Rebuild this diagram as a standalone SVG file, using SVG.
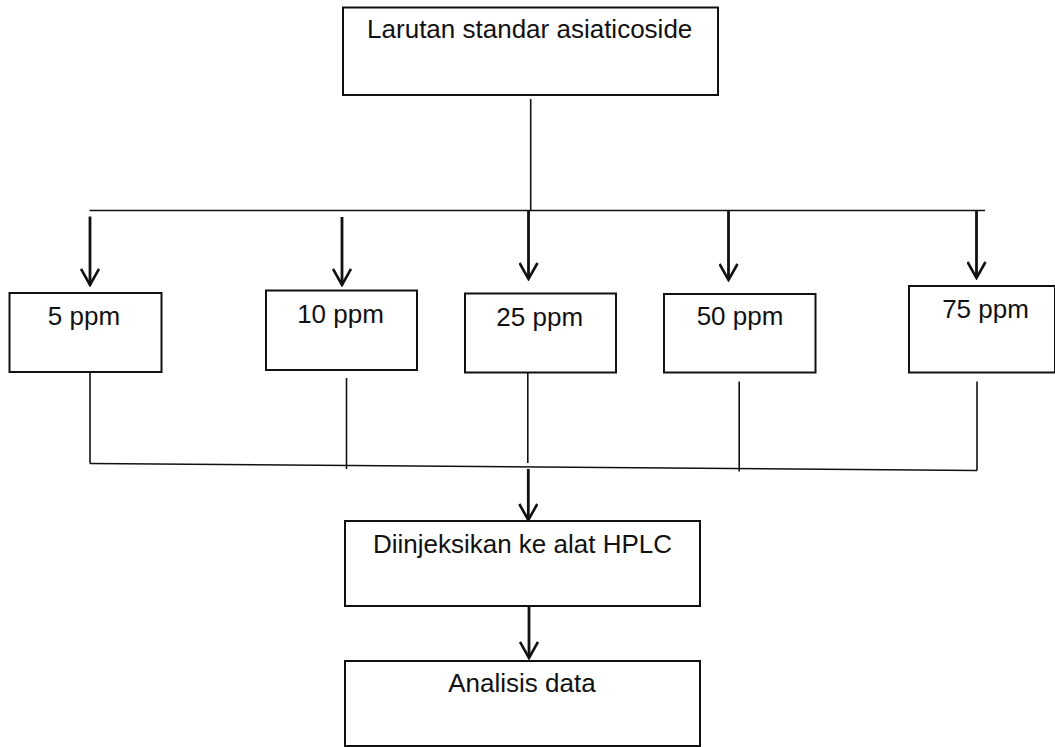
<svg xmlns="http://www.w3.org/2000/svg" width="1055" height="747" viewBox="0 0 1055 747">
  <defs>
    <style>
      .box { fill: #ffffff; stroke: #111111; stroke-width: 2; }
      .lbl { font-family: "Liberation Sans", Arial, sans-serif; font-size: 26px; fill: #111111; text-anchor: middle; }
      .ln { fill: none; stroke: #111111; stroke-width: 1.6; }
      .ar { fill: none; stroke: #111111; stroke-width: 2.8; marker-end: url(#arr); }
    </style>
    <marker id="arr" markerWidth="20" markerHeight="20" refX="18" refY="10" markerUnits="userSpaceOnUse" orient="auto">
      <path d="M2,1 L18,10 L2,19" fill="none" stroke="#111111" stroke-width="2.6"/>
    </marker>
  </defs>
  <rect width="1055" height="747" fill="#ffffff"/>

  <g id="connectors">
    <line class="ln" x1="530.7" y1="99" x2="530.7" y2="210.5"/>
    <line class="ln" x1="89.5" y1="210.5" x2="985" y2="210.5" stroke-width="2"/>
    <line class="ar" x1="90" y1="216.5" x2="90" y2="285"/>
    <line class="ar" x1="342" y1="217" x2="342" y2="285"/>
    <line class="ar" x1="528.5" y1="211" x2="528.5" y2="279"/>
    <line class="ar" x1="728.5" y1="211" x2="728.5" y2="280"/>
    <line class="ar" x1="976.5" y1="211" x2="976.5" y2="278"/>

    <line class="ln" x1="90" y1="372" x2="90" y2="463.5"/>
    <line class="ln" x1="346.5" y1="378" x2="346.5" y2="469"/>
    <line class="ln" x1="527.8" y1="372" x2="527.8" y2="463"/>
    <line class="ln" x1="739.2" y1="381.5" x2="739.2" y2="471.5"/>
    <line class="ln" x1="977" y1="381.5" x2="977" y2="470.5" stroke-width="2"/>
    <line class="ln" x1="90" y1="463.5" x2="977" y2="470.5" stroke-width="2"/>

    <line class="ar" x1="528.3" y1="469" x2="528.3" y2="520"/>
    <line class="ar" x1="529" y1="606" x2="529" y2="658"/>
  </g>

  <g id="node-standar">
    <rect class="box" x="343" y="7.5" width="375" height="87.5"/>
    <text class="lbl" x="529.7" y="38">Larutan standar asiaticoside</text>
  </g>
  <g id="node-5ppm">
    <rect class="box" x="9.5" y="293" width="152" height="79"/>
    <text class="lbl" x="84" y="325">5 ppm</text>
  </g>
  <g id="node-10ppm">
    <rect class="box" x="266" y="290.5" width="151" height="79.5"/>
    <text class="lbl" x="340.5" y="323">10 ppm</text>
  </g>
  <g id="node-25ppm">
    <rect class="box" x="465" y="293.5" width="151" height="79"/>
    <text class="lbl" x="539.7" y="325.7">25 ppm</text>
  </g>
  <g id="node-50ppm">
    <rect class="box" x="664" y="294" width="151.5" height="78.5"/>
    <text class="lbl" x="740" y="325">50 ppm</text>
  </g>
  <g id="node-75ppm">
    <rect class="box" x="909" y="286" width="146" height="86.5"/>
    <text class="lbl" x="985.5" y="318">75 ppm</text>
  </g>
  <g id="node-hplc">
    <rect class="box" x="345" y="521" width="355" height="85"/>
    <text class="lbl" x="522.5" y="552.7">Diinjeksikan ke alat HPLC</text>
  </g>
  <g id="node-analisis">
    <rect class="box" x="345" y="661" width="355" height="85"/>
    <text class="lbl" x="522" y="691.7">Analisis data</text>
  </g>
</svg>
